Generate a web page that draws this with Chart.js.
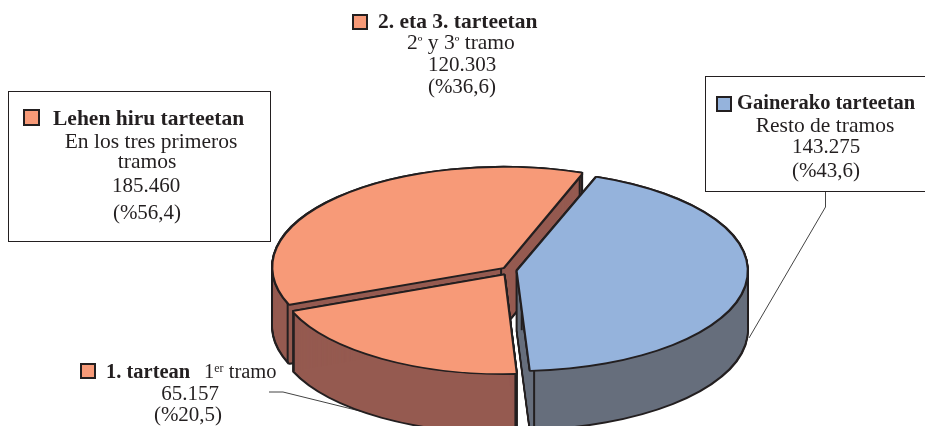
<!DOCTYPE html>
<html lang="eu">
<head>
<meta charset="UTF-8">
<title>Tarteak</title>
<style>
    body { margin: 0; padding: 0; background: #fff; overflow: hidden; }
    canvas { display: block; }
</style>
</head>
<body>
<canvas id="chart" width="925" height="426"></canvas>
<script src="https://cdn.jsdelivr.net/npm/chart.js"></script>
<script>
const categories = ['Gainerako tarteetan', '1. tartean', '2. eta 3. tarteetan'];
const values = [143275, 65157, 120303];
const topColors = ['#95b3dc', '#f79a78', '#f79a78'];
const sideColors = ['#666e7c', '#955a50', '#955a50'];
const explode = [27, 55, 44];
const radiusTrim = [2, 2, 0];

const groupTitle = 'Lehen hiru tarteetan';
const groupLines = ['En los tres primeros', 'tramos', '185.460', '(%56,4)'];
const middleLines = ['120.303', '(%36,6)'];
const restLines = ['Resto de tramos', '143.275', '(%43,6)'];
const firstLines = ['65.157', '(%20,5)'];

const INK = '#231f20';
const SQUASH = 0.433;
const DEPTH = 59;
const SERIF = '"Liberation Serif", serif';
const TEXT = 21.5;
const NUM = 21;
const SMALL_TITLE = 20.5;

function squashed(chart, ctx, dy, fn) {
    const cy = chart.getDatasetMeta(0).data[0].y;
    ctx.save();
    ctx.translate(0, cy + dy);
    ctx.scale(1, SQUASH);
    ctx.translate(0, -cy);
    fn();
    ctx.restore();
}

// draws the library's own arc with other colours
function paintArc(ctx, arc, fill, border) {
    const copy = Object.create(arc);
    copy.options = Object.assign({}, arc.options, {
        backgroundColor: fill,
        borderColor: INK,
        borderWidth: border,
        borderJoinStyle: 'round'
    });
    copy.draw(ctx);
}

function arcPoints(arc) {
    const mid = (arc.startAngle + arc.endAngle) / 2;
    const span = arc.endAngle - arc.startAngle;
    const move = arc.options.offset / 4;
    const fix = 1 - Math.sin(Math.min(Math.PI, span));
    const dist = move * (1 + fix);
    const r = arc.outerRadius + move * fix;
    const x0 = arc.x + Math.cos(mid) * dist;
    const y0 = Math.sin(mid) * dist;
    const at = (x, y) => ({ x: x, y: arc.y + y * SQUASH });
    return [
        at(x0, y0),
        at(x0 + Math.cos(arc.startAngle) * r, y0 + Math.sin(arc.startAngle) * r),
        at(x0 + Math.cos(arc.endAngle) * r, y0 + Math.sin(arc.endAngle) * r)
    ];
}

function strokeLine(ctx, pts, width, color) {
    ctx.save();
    ctx.lineWidth = width;
    ctx.strokeStyle = color;
    ctx.beginPath();
    pts.forEach((p, i) => i ? ctx.lineTo(p[0], p[1]) : ctx.moveTo(p[0], p[1]));
    ctx.stroke();
    ctx.restore();
}

function marker(ctx, x, y, size, color) {
    ctx.fillStyle = color;
    ctx.strokeStyle = INK;
    ctx.lineWidth = 2;
    ctx.fillRect(x, y, size, size);
    ctx.strokeRect(x, y, size, size);
}

function write(ctx, text, x, y, opts) {
    opts = opts || {};
    ctx.font = (opts.bold ? 'bold ' : '') + (opts.size || TEXT) + 'px ' + SERIF;
    ctx.textAlign = opts.align || 'center';
    ctx.textBaseline = 'alphabetic';
    ctx.fillStyle = INK;
    ctx.fillText(text, x, y);
    return ctx.measureText(text).width;
}

const pie3d = {
    id: 'pie3d',
    afterDatasetsUpdate(chart) {
        // slices are not all the same size in the original
        chart.getDatasetMeta(0).data.forEach((arc, i) => {
            arc.outerRadius -= radiusTrim[i];
        });
    },
    beforeDatasetsDraw(chart) {
        const ctx = chart.ctx;
        const arcs = chart.getDatasetMeta(0).data;

        // boxes and leaders sit behind the pie
        ctx.save();
        ctx.strokeStyle = INK;
        ctx.lineWidth = 1;
        ctx.strokeRect(8.5, 91.5, 262, 150);
        ctx.strokeRect(705.5, 76.5, 240, 115);
        ctx.restore();
        strokeLine(ctx, [[825.5, 192], [825.5, 207], [749, 338]], 1, '#444');
        strokeLine(ctx, [[269, 392], [283, 392], [372, 414]], 1, '#444');

        // walls, back slices first
        [2, 0, 1].forEach(i => {
            const arc = arcs[i];
            for (let d = -1; d <= DEPTH + 1; d++) {
                squashed(chart, ctx, d, () => paintArc(ctx, arc, INK, 4));
            }
            for (let d = 0; d <= DEPTH; d++) {
                squashed(chart, ctx, d, () => paintArc(ctx, arc, sideColors[i], 0));
            }
            arcPoints(arc).forEach(p => {
                strokeLine(ctx, [[p.x, p.y], [p.x, p.y + DEPTH]], 2, INK);
            });
        });

        // outline for the top faces, the library fills them afterwards
        arcs.forEach(arc => {
            for (let d = -1; d <= 1; d++) {
                squashed(chart, ctx, d, () => paintArc(ctx, arc, INK, 4));
            }
        });

        const cy = arcs[0].y;
        ctx.save();
        ctx.translate(0, cy);
        ctx.scale(1, SQUASH);
        ctx.translate(0, -cy);
    },
    afterDatasetsDraw(chart) {
        chart.ctx.restore();
    },
    afterDraw(chart) {
        const ctx = chart.ctx;

        // left box
        marker(ctx, 24, 110, 15, topColors[2]);
        write(ctx, groupTitle, 53, 125, { bold: true, align: 'left' });
        write(ctx, groupLines[0], 151, 148);
        write(ctx, groupLines[1], 147, 168);
        write(ctx, groupLines[2], 146, 192, { size: NUM });
        write(ctx, groupLines[3], 147, 219, { size: NUM });

        // top label
        marker(ctx, 353, 15, 14, topColors[2]);
        write(ctx, categories[2], 378, 28, { bold: true, align: 'left' });
        let x = 407;
        x += write(ctx, '2', x, 49, { align: 'left' });
        x += write(ctx, 'º', x, 47, { align: 'left', size: 15 });
        x += write(ctx, ' y 3', x, 49, { align: 'left' });
        x += write(ctx, 'º', x, 47, { align: 'left', size: 15 });
        write(ctx, ' tramo', x, 49, { align: 'left' });
        write(ctx, middleLines[0], 462, 71, { size: NUM });
        write(ctx, middleLines[1], 462, 93, { size: NUM });

        // right box
        marker(ctx, 717, 97, 14, topColors[0]);
        write(ctx, categories[0], 737, 109, { bold: true, align: 'left', size: SMALL_TITLE });
        write(ctx, restLines[0], 825, 132);
        write(ctx, restLines[1], 826, 153, { size: NUM });
        write(ctx, restLines[2], 826, 177, { size: NUM });

        // bottom label
        marker(ctx, 81, 364, 14, topColors[1]);
        write(ctx, categories[1], 106, 378, { bold: true, align: 'left', size: SMALL_TITLE });
        x = 204;
        x += write(ctx, '1', x, 378, { align: 'left', size: SMALL_TITLE });
        x += write(ctx, 'er', x, 372, { align: 'left', size: 12 });
        write(ctx, ' tramo', x, 378, { align: 'left', size: SMALL_TITLE });
        write(ctx, firstLines[0], 190, 400, { size: NUM });
        write(ctx, firstLines[1], 188, 421, { size: NUM });
    }
};

new Chart(document.getElementById('chart'), {
    type: 'pie',
    data: {
        labels: categories,
        datasets: [{
            data: values,
            backgroundColor: topColors,
            borderWidth: 0,
            offset: explode,
            clip: false
        }]
    },
    options: {
        responsive: false,
        animation: false,
        events: [],
        rotation: 20,
        radius: 227,
        layout: { padding: { left: 97, top: 115 } },
        plugins: { legend: { display: false }, tooltip: { enabled: false } }
    },
    plugins: [pie3d]
});
</script>
</body>
</html>
